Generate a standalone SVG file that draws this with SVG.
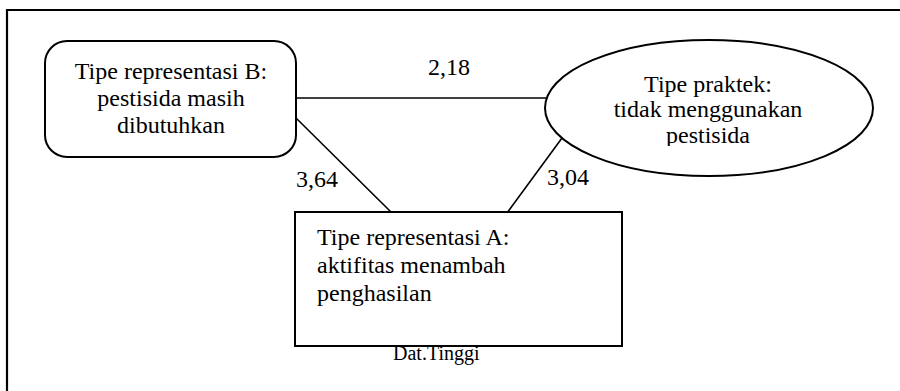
<svg xmlns="http://www.w3.org/2000/svg" width="900" height="391" viewBox="0 0 900 391">
<style>
text{font-family:"Liberation Serif","Times New Roman",serif;fill:#000;font-size:24px}
.shape{fill:#fff;stroke:#000;stroke-width:2}
.conn line{stroke:#000;stroke-width:1.6}
.frame{fill:none;stroke:#000;stroke-width:2.2}
</style>
<defs>
<clipPath id="clipE"><rect x="560" y="60" width="300" height="86"/></clipPath>
</defs>
<rect width="900" height="391" fill="#fff"/>
<path class="frame" d="M7,391 V10 H900"/>
<g class="conn">
<line x1="296" y1="98" x2="547" y2="98"/>
<line x1="296" y1="118" x2="392" y2="213"/>
<line x1="562" y1="138" x2="507" y2="213"/>
</g>
<g id="nodeB">
<rect class="shape" x="45" y="41" width="251" height="116" rx="22"/>
<text x="171" y="79" text-anchor="middle">Tipe representasi B:</text>
<text x="171" y="106" text-anchor="middle">pestisida masih</text>
<text x="171" y="133" text-anchor="middle">dibutuhkan</text>
</g>
<g id="nodeP">
<ellipse class="shape" cx="709" cy="108" rx="164" ry="68"/>
<g clip-path="url(#clipE)">
<text x="708" y="92" text-anchor="middle">Tipe praktek:</text>
<text x="708" y="117" text-anchor="middle">tidak menggunakan</text>
<text x="708" y="143" text-anchor="middle">pestisida</text>
</g>
</g>
<g id="nodeA">
<rect class="shape" x="295" y="212" width="327" height="134"/>
<text x="317" y="245">Tipe representasi A:</text>
<text x="317" y="273">aktifitas menambah</text>
<text x="317" y="301">penghasilan</text>
</g>
<g id="labels">
<text x="428" y="75">2,18</text>
<text x="296" y="187">3,64</text>
<text x="547" y="185">3,04</text>
<text x="393" y="360" style="font-size:20px">Dat.Tinggi</text>
</g>
</svg>
